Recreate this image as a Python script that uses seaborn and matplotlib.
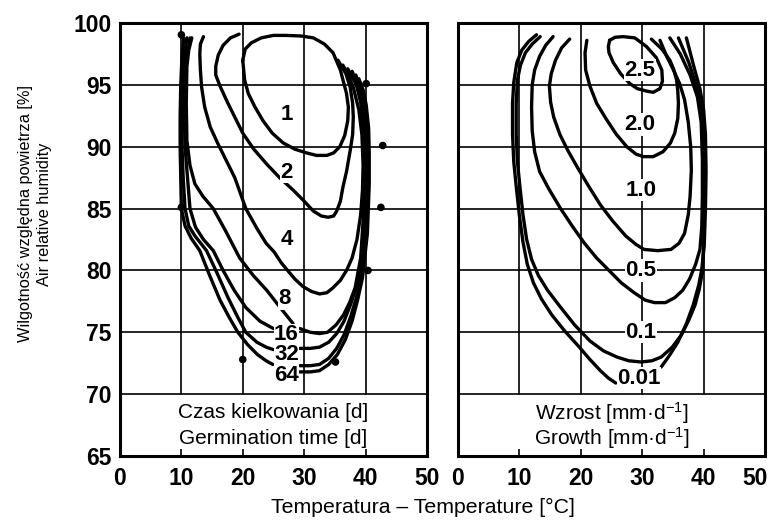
import matplotlib
matplotlib.use("Agg")
import matplotlib.pyplot as plt
import matplotlib.transforms as mtransforms
import numpy as np
import pandas as pd
import seaborn as sns

sns.set_theme(style="white")
plt.rcParams["font.family"] = ["Liberation Sans", "DejaVu Sans"]
plt.rcParams["mathtext.default"] = "regular"
plt.rcParams["text.color"] = "black"
plt.rcParams["axes.labelcolor"] = "black"
plt.rcParams["xtick.color"] = "black"
plt.rcParams["ytick.color"] = "black"

# ---------------- axis ticks ----------------
TEMP_TICKS = [0, 10, 20, 30, 40, 50]
HUM_TICKS = [65, 70, 75, 80, 85, 90, 95, 100]

# ---------------- left panel: germination time isolines [d] ----------------
G1_T = [20.0, 20.4, 21.4, 23.0, 25.0, 27.1, 29.5, 31.5, 33.3, 34.7, 35.9, 36.9, 37.2, 37.1, 36.6, 35.8, 34.8, 33.7, 32.0, 30.4, 28.5, 26.6, 24.8, 23.3, 22.0, 20.9, 20.3, 20.0]
G1_H = [97.0, 97.9, 98.4, 98.8, 99.0, 99.0, 98.95, 98.8, 98.3, 97.6, 96.2, 94.3, 93.2, 92.1, 90.9, 90.0, 89.5, 89.3, 89.3, 89.5, 89.8, 90.3, 91.1, 92.1, 93.2, 94.3, 95.4, 97.0]

G2_T = [19.4, 18.0, 16.8, 16.0, 15.6, 15.6, 16.3, 17.5, 18.8, 20.0, 21.8, 23.9, 26.0, 28.2, 30.0, 31.5, 32.8, 33.9, 34.8, 35.3, 35.9, 36.3, 36.9, 37.5, 37.9, 38.0, 37.9, 37.5, 36.8, 35.5]
G2_H = [99.1, 98.8, 98.2, 97.4, 96.5, 95.8, 94.9, 93.6, 92.3, 91.1, 89.8, 88.6, 87.5, 86.5, 85.6, 84.8, 84.4, 84.3, 84.4, 84.8, 85.6, 86.7, 88.0, 89.7, 91.0, 92.4, 93.5, 94.8, 95.9, 97.0]

G4_T = [13.6, 13.1, 13.0, 13.1, 13.3, 13.8, 14.7, 15.9, 17.2, 18.7, 20.5, 22.3, 23.8, 25.1, 26.3, 27.3, 28.5, 29.8, 31.2, 32.5, 33.7, 34.7, 35.9, 36.9, 37.8, 38.6, 39.2, 39.5, 39.6, 39.4, 38.9, 38.0, 37.2, 36.3]
G4_H = [98.9, 98.3, 97.5, 96.2, 94.8, 93.2, 91.6, 90.3, 89.0, 87.5, 85.0, 83.4, 82.2, 81.5, 80.6, 80.0, 79.3, 78.7, 78.3, 78.1, 78.2, 78.6, 79.2, 80.0, 81.0, 82.5, 84.5, 86.5, 88.5, 91.0, 93.0, 94.8, 95.8, 96.6]

G8L_T = [11.7, 11.2, 10.9, 10.8, 10.9, 11.4, 12.2, 13.5, 15.2, 17.2, 19.5, 21.7, 23.9, 26.1, 28.2]
G8L_H = [98.8, 97.8, 96.5, 93.5, 90.5, 88.5, 87.0, 86.0, 85.0, 83.2, 81.0, 79.6, 78.4, 77.0, 75.7]

G16L_T = [11.4, 10.9, 10.6, 10.5, 10.6, 11.0, 11.4, 12.3, 13.6, 15.2, 16.8, 18.6, 20.5, 22.8, 25.0]
G16L_H = [98.8, 97.3, 95.0, 92.5, 90.0, 87.5, 85.0, 83.5, 82.5, 81.6, 80.0, 78.4, 77.0, 75.9, 75.3]

G32L_T = [10.9, 10.5, 10.2, 10.1, 10.1, 10.3, 10.6, 11.2, 12.2, 14.1, 15.8, 17.6, 19.2, 20.5, 22.3, 23.8, 25.0]
G32L_H = [98.8, 97.3, 95.0, 92.5, 90.0, 87.5, 85.0, 83.6, 82.8, 81.6, 79.8, 77.8, 76.2, 75.0, 74.2, 73.8, 73.6]

G64L_T = [10.4, 10.1, 9.9, 9.8, 9.8, 9.9, 10.0, 10.6, 11.6, 13.0, 14.6, 16.3, 17.8, 19.2, 20.8, 22.4, 23.8, 24.9]
G64L_H = [98.8, 97.3, 95.0, 92.5, 90.0, 87.5, 85.0, 83.6, 82.6, 81.6, 79.6, 77.6, 76.2, 75.0, 74.0, 73.2, 72.7, 72.4]

G16R_T = [29.3, 31.0, 32.5, 33.8, 35.2, 36.4, 37.4, 38.3, 39.2, 39.6, 39.8, 39.8, 39.7, 39.2, 38.5, 37.1]
G16R_H = [75.3, 75.0, 74.9, 75.0, 75.6, 76.4, 77.4, 78.6, 81.0, 84.0, 87.0, 89.5, 91.5, 93.6, 95.0, 96.3]

G32R_T = [29.3, 31.0, 32.5, 34.0, 35.3, 36.5, 37.6, 38.5, 39.2, 39.8, 40.0, 40.0, 39.9, 39.5, 38.8, 37.8]
G32R_H = [73.7, 73.7, 73.8, 74.2, 74.9, 75.9, 77.3, 78.7, 80.3, 83.5, 87.0, 89.5, 91.5, 93.6, 95.0, 96.1]

G64aR_T = [29.3, 31.0, 32.5, 34.0, 35.3, 36.5, 37.6, 38.5, 39.3, 40.0, 40.3, 40.3, 40.2, 39.8, 39.2, 38.4]
G64aR_H = [72.3, 72.3, 72.4, 72.9, 73.7, 74.8, 76.3, 77.8, 79.6, 83.0, 87.0, 89.5, 91.5, 93.5, 94.8, 95.8]

G64bR_T = [29.3, 31.0, 32.5, 34.0, 35.4, 36.7, 37.8, 38.7, 39.5, 40.3, 40.6, 40.6, 40.5, 40.1, 39.6, 38.9]
G64bR_H = [71.8, 71.8, 71.9, 72.4, 73.2, 74.4, 75.9, 77.6, 79.4, 83.0, 87.0, 89.5, 91.5, 93.4, 94.6, 95.5]

GERM_LABELS = ["1", "2", "4", "8", "16", "32", "64"]
GERM_LABEL_T = [27.1, 27.1, 27.1, 26.8, 27.1, 27.1, 27.1]
GERM_LABEL_H = [92.6, 87.9, 82.5, 77.7, 74.8, 73.2, 71.5]

DOT_T = [10.0, 10.0, 40.1, 42.8, 42.5, 40.4, 20.0, 35.1]
DOT_H = [99.05, 85.1, 95.1, 90.1, 85.1, 80.0, 72.8, 72.6]

# ---------------- right panel: growth isolines [mm/d] ----------------
W25_T = [24.7, 25.6, 26.9, 28.8, 30.7, 32.3, 33.2, 33.3, 32.9, 31.8, 30.7, 29.2, 28.0, 26.5, 25.3, 24.6, 24.5, 24.7]
W25_H = [98.6, 98.85, 98.9, 98.8, 98.1, 97.2, 96.2, 95.3, 94.7, 94.4, 94.5, 94.7, 95.1, 95.9, 96.8, 97.6, 98.1, 98.6]

W20_T = [21.0, 20.7, 20.8, 21.5, 22.6, 24.2, 25.8, 27.5, 29.0, 30.2, 31.8, 33.4, 34.6, 35.3, 35.8, 35.9, 35.8, 35.6, 35.1, 34.5, 33.2, 31.5]
W20_H = [98.6, 97.6, 96.2, 94.9, 93.5, 92.2, 91.0, 90.0, 89.4, 89.2, 89.2, 89.6, 90.3, 91.1, 92.3, 93.5, 94.5, 95.4, 96.3, 97.0, 97.9, 98.7]

W10_T = [18.2, 16.9, 15.9, 15.2, 14.9, 15.1, 15.6, 16.6, 17.9, 19.5, 21.3, 23.2, 25.2, 27.3, 29.0, 30.3, 32.5, 34.7, 36.0, 36.9, 37.5, 37.8, 38.0, 37.9, 37.5, 36.9, 36.1, 35.0, 34.0, 32.9]
W10_H = [98.7, 98.0, 97.0, 95.9, 94.9, 93.6, 92.4, 91.0, 89.7, 88.3, 86.8, 85.3, 84.0, 82.8, 82.1, 81.7, 81.6, 81.7, 82.2, 83.0, 84.5, 86.0, 88.1, 90.0, 92.0, 93.8, 95.1, 96.3, 97.3, 98.6]

W05_T = [15.5, 14.3, 13.3, 12.5, 12.1, 12.0, 12.1, 12.5, 13.3, 14.8, 16.6, 18.6, 20.6, 22.6, 24.6, 26.6, 28.7, 30.5, 32.0, 33.8, 35.3, 36.6, 37.7, 38.7, 39.4, 39.7, 39.8, 39.8, 39.6, 39.0, 37.8, 36.2, 34.5]
W05_H = [98.9, 98.2, 97.3, 96.2, 95.0, 93.2, 91.3, 89.6, 88.0, 86.6, 85.1, 83.6, 82.2, 81.0, 80.0, 79.0, 78.2, 77.6, 77.4, 77.4, 77.8, 78.4, 79.3, 80.5, 81.7, 83.5, 86.0, 89.0, 92.0, 94.0, 95.8, 97.5, 98.8]

W01_T = [13.4, 12.1, 11.0, 10.2, 9.7, 9.5, 9.5, 9.7, 10.1, 10.6, 11.2, 12.0, 13.1, 14.6, 16.6, 19.0, 21.5, 23.7, 25.9, 27.8, 29.8, 31.6, 33.1, 34.9, 36.4, 37.6, 38.6, 39.3, 39.8, 40.0, 40.1, 40.1, 40.0, 39.6, 38.9, 37.6, 35.9]
W01_H = [98.9, 98.3, 97.6, 96.6, 95.4, 93.5, 91.0, 88.8, 86.8, 84.5, 82.5, 80.9, 79.6, 78.4, 77.1, 75.6, 74.3, 73.5, 73.0, 72.7, 72.6, 72.7, 73.0, 73.8, 74.8, 76.0, 77.2, 78.5, 79.9, 82.0, 85.0, 88.0, 91.0, 93.0, 94.8, 96.8, 98.8]

W001L_T = [12.8, 11.5, 10.4, 9.6, 9.1, 8.9, 8.9, 9.1, 9.5, 10.0, 10.6, 11.3, 12.3, 13.6, 15.3, 17.4, 19.6, 21.5, 23.2, 24.5, 25.7]
W001L_H = [99.05, 98.5, 97.8, 96.8, 95.2, 93.5, 91.0, 88.8, 86.8, 84.5, 82.3, 80.5, 79.0, 77.7, 76.4, 75.1, 73.9, 72.8, 71.9, 71.3, 70.9]

W001R_T = [33.1, 34.4, 35.8, 37.2, 38.3, 39.2, 39.7, 40.1, 40.3, 40.4, 40.3, 40.0, 39.4, 38.4, 37.2]
W001R_H = [72.2, 73.1, 74.2, 75.7, 77.2, 78.8, 80.1, 82.0, 85.0, 88.0, 91.0, 93.0, 94.7, 96.5, 98.8]

GROW_LABELS = ["2.5", "2.0", "1.0", "0.5", "0.1", "0.01"]
GROW_LABEL_T = [29.6, 29.6, 29.8, 29.8, 29.8, 29.5]
GROW_LABEL_H = [96.2, 91.8, 86.5, 80.0, 75.0, 71.3]


def strokes_frame(strokes):
    rows = []
    for name, (ts, hs) in strokes.items():
        for i, (t, h) in enumerate(zip(ts, hs)):
            rows.append({"stroke": name, "order": i, "temp": t, "hum": h})
    return pd.DataFrame(rows)


left_df = strokes_frame({
    "1": (G1_T, G1_H), "2": (G2_T, G2_H), "4": (G4_T, G4_H),
    "8L": (G8L_T, G8L_H), "16L": (G16L_T, G16L_H), "32L": (G32L_T, G32L_H),
    "64L": (G64L_T, G64L_H), "16R": (G16R_T, G16R_H), "32R": (G32R_T, G32R_H),
    "64aR": (G64aR_T, G64aR_H), "64bR": (G64bR_T, G64bR_H),
})
right_df = strokes_frame({
    "2.5": (W25_T, W25_H), "2.0": (W20_T, W20_H), "1.0": (W10_T, W10_H),
    "0.5": (W05_T, W05_H), "0.1": (W01_T, W01_H),
    "0.01L": (W001L_T, W001L_H), "0.01R": (W001R_T, W001R_H),
})
dots_df = pd.DataFrame({"temp": DOT_T, "hum": DOT_H})

fig = plt.figure(figsize=(7.76, 5.27), dpi=100)
axL = fig.add_axes([0.1546, 0.1347, 0.3956, 0.8216])
axR = fig.add_axes([0.5900, 0.1347, 0.3959, 0.8216])

LW = 2.4
LAB_FS = 16
TICK_FS = 16.5
TXT_FS = 15


def frame(ax, show_y):
    ax.set_xlim(TEMP_TICKS[0], TEMP_TICKS[-1])
    ax.set_ylim(HUM_TICKS[0], HUM_TICKS[-1])
    ax.set_xticks(TEMP_TICKS)
    ax.set_yticks(HUM_TICKS)
    ax.set_xticklabels([str(v) for v in TEMP_TICKS], fontsize=TICK_FS, fontweight="bold")
    if show_y:
        ax.set_yticklabels([str(v) for v in HUM_TICKS], fontsize=TICK_FS, fontweight="bold")
    else:
        ax.set_yticklabels([])
    ax.tick_params(axis="x", direction="in", length=5, width=1.2, pad=8, colors="black", bottom=True)
    ax.tick_params(axis="y", length=0, pad=6, colors="black")
    for s in ax.spines.values():
        s.set_visible(True)
        s.set_color("black")
        s.set_linewidth(2.2)
    ax.set_xlabel("")
    ax.set_ylabel("")
    lo = HUM_TICKS[1]
    for h in HUM_TICKS[1:-1]:
        ax.axhline(h, color="black", lw=1.2, zorder=1)
    for t in TEMP_TICKS[1:-1]:
        ax.axvline(t, ymin=(lo - HUM_TICKS[0]) / (HUM_TICKS[-1] - HUM_TICKS[0]), ymax=1,
                   color="black", lw=1.2, zorder=1)


frame(axL, True)
frame(axR, False)

# keep the last tick label of the right panel inside the canvas
last = axR.get_xticklabels()[-1]
last.set_transform(last.get_transform() + mtransforms.ScaledTranslation(-10 / 100, 0, fig.dpi_scale_trans))

sns.lineplot(data=left_df, x="temp", y="hum", units="stroke", estimator=None, sort=False,
             color="black", lw=LW, ax=axL, legend=False, zorder=3)
sns.scatterplot(data=dots_df, x="temp", y="hum", color="black", s=30, edgecolor="none",
                ax=axL, legend=False, zorder=4)
sns.lineplot(data=right_df, x="temp", y="hum", units="stroke", estimator=None, sort=False,
             color="black", lw=LW, ax=axR, legend=False, zorder=3)
for ax in (axL, axR):
    for ln in ax.get_lines():
        ln.set_solid_joinstyle("round")
        ln.set_solid_capstyle("round")
    ax.set_xlabel("")
    ax.set_ylabel("")

for lab, t, h in zip(GERM_LABELS, GERM_LABEL_T, GERM_LABEL_H):
    axL.text(t, h, lab, ha="center", va="center", fontsize=LAB_FS, fontweight="bold",
             zorder=5, bbox=dict(fc="white", ec="none", pad=0.2))
for lab, t, h in zip(GROW_LABELS, GROW_LABEL_T, GROW_LABEL_H):
    axR.text(t, h, lab, ha="center", va="center", fontsize=LAB_FS, fontweight="bold",
             zorder=5, bbox=dict(fc="white", ec="none", pad=0.5))

axL.text(25, 68.5, "Czas kielkowania [d]", ha="center", va="center", fontsize=TXT_FS)
axL.text(25, 66.45, "Germination time [d]", ha="center", va="center", fontsize=TXT_FS)
axR.text(25, 68.5, "Wzrost [mm·d$^{-1}$]", ha="center", va="center", fontsize=TXT_FS)
axR.text(25, 66.45, "Growth [mm·d$^{-1}$]", ha="center", va="center", fontsize=TXT_FS)

fig.text(423 / 776, 1 - 507 / 527, "Temperatura – Temperature [°C]", ha="center", va="center",
         fontsize=15.3)
fig.text(35 / 776, 1 - 214 / 527, "Wilgotność względna powietrza [%]\nAir relative humidity",
         rotation=90, ha="center", va="center", fontsize=11.8, linespacing=1.25)

fig.savefig("out.png", dpi=100, facecolor="white")
